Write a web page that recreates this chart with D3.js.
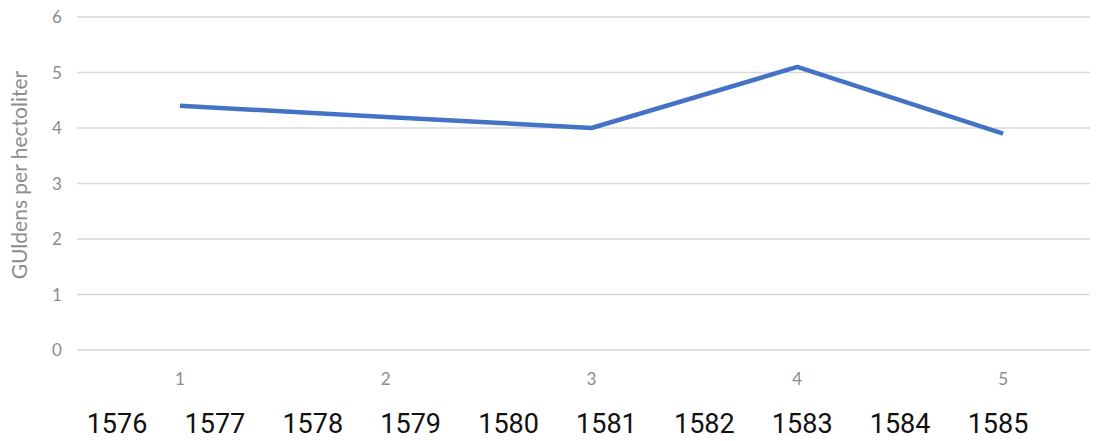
<!DOCTYPE html>
<html>
<head>
<meta charset="utf-8">
<script src="https://cdn.jsdelivr.net/npm/d3@7/dist/d3.min.js"></script>
<style>
  html, body { margin: 0; padding: 0; background: #fff; }
  svg { display: block; }
</style>
</head>
<body>
<svg id="chart" width="1100" height="441"></svg>
<script>
// ---- data ----
const categories = ["1", "2", "3", "4", "5"];
const values = [4.4, 4.2, 4.0, 5.1, 3.9];
const yTicks = [0, 1, 2, 3, 4, 5, 6];
const years = ["1576", "1577", "1578", "1579", "1580", "1581", "1582", "1583", "1584", "1585"];
const yTitle = "GUldens per hectoliter";

// ---- layout ----
const plot = { left: 77, right: 1106, top: 17, bottom: 350, gridRight: 1090 };

const svg = d3.select("#chart");

const x = d3.scaleBand().domain(categories).range([plot.left, plot.right]).padding(0);
const y = d3.scaleLinear().domain([0, 6]).range([plot.bottom, plot.top]);

// gridlines
svg.append("g").selectAll("line").data(yTicks).join("line")
  .attr("x1", plot.left).attr("x2", plot.gridRight)
  .attr("y1", d => y(d)).attr("y2", d => y(d))
  .attr("stroke", "#d9d9d9").attr("stroke-width", 1.5);

// y tick labels
svg.append("g").selectAll("text").data(yTicks).join("text")
  .attr("x", 57).attr("y", d => y(d)).attr("dy", "0.36em")
  .attr("text-anchor", "middle")
  .attr("font-family", "Lato, sans-serif").attr("font-size", 17)
  .attr("fill", "#8c8c8c")
  .text(d => d);

// x category labels
svg.append("g").selectAll("text").data(categories).join("text")
  .attr("x", d => x(d) + x.bandwidth() / 2).attr("y", 385)
  .attr("text-anchor", "middle")
  .attr("font-family", "Lato, sans-serif").attr("font-size", 17)
  .attr("fill", "#8c8c8c")
  .text(d => d);

// y title
svg.append("text")
  .attr("transform", `translate(27, 175) rotate(-90)`)
  .attr("text-anchor", "middle")
  .attr("font-family", "Lato, sans-serif").attr("font-size", 21)
  .attr("fill", "#8c8c8c")
  .text(yTitle);

// line
const line = d3.line()
  .x((d, i) => x(categories[i]) + x.bandwidth() / 2)
  .y(d => y(d));
svg.append("path").datum(values)
  .attr("d", line)
  .attr("fill", "none")
  .attr("stroke", "#4472C4")
  .attr("stroke-width", 4.5)
  .attr("stroke-linejoin", "round");

// years row
const yr = d3.scalePoint().domain(years).range([117, 998]);
svg.append("g").selectAll("text").data(years).join("text")
  .attr("x", d => yr(d)).attr("y", 433)
  .attr("text-anchor", "middle")
  .attr("font-family", "Roboto, sans-serif").attr("font-size", 27)
  .attr("fill", "#111")
  .text(d => d);
</script>
</body>
</html>
